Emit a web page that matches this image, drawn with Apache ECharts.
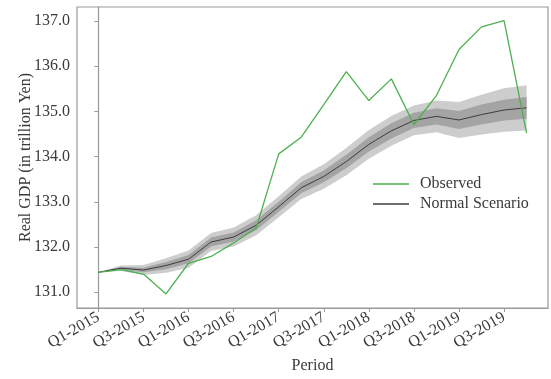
<!DOCTYPE html>
<html>
<head>
<meta charset="utf-8">
<script src="https://cdn.jsdelivr.net/npm/echarts@6/dist/echarts.min.js"></script>
<style>
  html, body { margin: 0; padding: 0; background: #ffffff; }
  #chart { width: 551px; height: 379px; }
</style>
</head>
<body>
<div id="chart"></div>
<script>
// Quarterly periods shown on the x axis
const periods = [
  'Q1-2015', 'Q2-2015', 'Q3-2015', 'Q4-2015',
  'Q1-2016', 'Q2-2016', 'Q3-2016', 'Q4-2016',
  'Q1-2017', 'Q2-2017', 'Q3-2017', 'Q4-2017',
  'Q1-2018', 'Q2-2018', 'Q3-2018', 'Q4-2018',
  'Q1-2019', 'Q2-2019', 'Q3-2019', 'Q4-2019'
];

// Period indices that carry a tick label (every second quarter)
const xTickIndex = [0, 2, 4, 6, 8, 10, 12, 14, 16, 18];
const yTicks = [131, 132, 133, 134, 135, 136, 137];

// Observed real GDP (trillion Yen)
const observed = [
  131.44, 131.50, 131.40, 130.96, 131.64, 131.79, 132.09, 132.42,
  134.06, 134.43, 135.15, 135.88, 135.24, 135.72, 134.71, 135.35,
  136.37, 136.87, 137.01, 134.52
];

// Normal scenario central path
const normalScenario = [
  131.44, 131.53, 131.49, 131.59, 131.73, 132.11, 132.22, 132.48,
  132.89, 133.31, 133.56, 133.89, 134.27, 134.57, 134.80, 134.89,
  134.81, 134.93, 135.03, 135.08
];

// Wide band around the normal scenario
const outerLow = [
  131.44, 131.47, 131.38, 131.43, 131.54, 131.91, 132.01, 132.26,
  132.66, 133.06, 133.29, 133.59, 133.95, 134.24, 134.47, 134.54,
  134.41, 134.49, 134.55, 134.58
];
const outerHigh = [
  131.44, 131.59, 131.60, 131.75, 131.92, 132.31, 132.43, 132.70,
  133.12, 133.56, 133.83, 134.19, 134.59, 134.90, 135.13, 135.24,
  135.21, 135.37, 135.51, 135.58
];

// Narrow band around the normal scenario
const innerLow = [
  131.44, 131.50, 131.44, 131.51, 131.64, 132.01, 132.12, 132.37,
  132.78, 133.19, 133.43, 133.74, 134.11, 134.40, 134.63, 134.71,
  134.61, 134.71, 134.80, 134.84
];
const innerHigh = [
  131.44, 131.56, 131.54, 131.67, 131.82, 132.21, 132.32, 132.59,
  133.00, 133.43, 133.69, 134.04, 134.43, 134.74, 134.97, 135.07,
  135.01, 135.15, 135.26, 135.32
];

const FONT = '"Liberation Serif", "DejaVu Serif", serif';
const TEXT = '#3a3a3a';
const FRAME = '#9a9a9a';

const pairs = (arr) => arr.map((v, i) => [i, v]);

// A filled band between a lower and an upper path, placed through the axes
function bandSeries(name, lo, hi, color, z) {
  return {
    name: name, type: 'custom', silent: true, z: z, clip: true,
    data: [[0, lo[0]]],
    renderItem: (params, api) => {
      const pts = [];
      for (let i = 0; i < hi.length; i++) pts.push(api.coord([i, hi[i]]));
      for (let i = lo.length - 1; i >= 0; i--) pts.push(api.coord([i, lo[i]]));
      return { type: 'polygon', shape: { points: pts }, style: { fill: color } };
    }
  };
}

const chart = echarts.init(document.getElementById('chart'), null, { renderer: 'canvas' });

chart.setOption({
  animation: false,
  backgroundColor: '#ffffff',
  textStyle: { fontFamily: FONT, color: TEXT },
  grid: {
    left: 77, top: 7, width: 471, height: 305,
    show: true, borderColor: FRAME, borderWidth: 1.2, backgroundColor: 'transparent'
  },
  legend: {
    orient: 'vertical',
    left: 368, top: 171,
    icon: 'rect',
    itemWidth: 36, itemHeight: 1.5, itemGap: 4,
    data: ['Observed', 'Normal Scenario'],
    textStyle: { fontFamily: FONT, fontSize: 16, color: TEXT, padding: [0, 0, 0, 6] }
  },
  xAxis: {
    type: 'value',
    min: -0.95, max: 19.95,
    name: 'Period', nameLocation: 'middle', nameGap: 50, nameMoveOverlap: false,
    nameTextStyle: { fontFamily: FONT, fontSize: 16, color: TEXT },
    splitLine: { show: false },
    axisLine: { show: true, lineStyle: { color: FRAME, width: 1.2 } },
    axisTick: { show: true, length: 4, lineStyle: { color: FRAME }, customValues: xTickIndex },
    axisLabel: {
      customValues: xTickIndex,
      rotate: 30, margin: 8,
      fontFamily: FONT, fontSize: 16, color: TEXT,
      formatter: (v) => periods[Math.round(v)]
    }
  },
  yAxis: {
    type: 'value',
    min: 130.65, max: 137.31,
    name: 'Real GDP (in trillion Yen)', nameLocation: 'middle', nameGap: 43, nameMoveOverlap: false,
    nameTextStyle: { fontFamily: FONT, fontSize: 16, color: TEXT },
    splitLine: { show: false },
    axisLine: { show: true, lineStyle: { color: FRAME, width: 1.2 } },
    axisTick: { show: true, length: 4, lineStyle: { color: FRAME }, customValues: yTicks },
    axisLabel: {
      customValues: yTicks,
      margin: 7,
      fontFamily: FONT, fontSize: 16, color: TEXT,
      formatter: (v) => v.toFixed(1)
    }
  },
  series: [
    bandSeries('outerBand', outerLow, outerHigh, '#cdcdcd', 1),
    bandSeries('innerBand', innerLow, innerHigh, '#a4a4a4', 2),
    {
      name: 'Normal Scenario', type: 'line', symbol: 'none',
      color: '#3c3c3c',
      lineStyle: { color: '#3c3c3c', width: 1 },
      data: pairs(normalScenario), z: 3
    },
    {
      name: 'Observed', type: 'line', symbol: 'none',
      color: '#4cb050',
      lineStyle: { color: '#4cb050', width: 1.3 },
      data: pairs(observed), z: 4
    }
  ]
});
</script>
</body>
</html>
